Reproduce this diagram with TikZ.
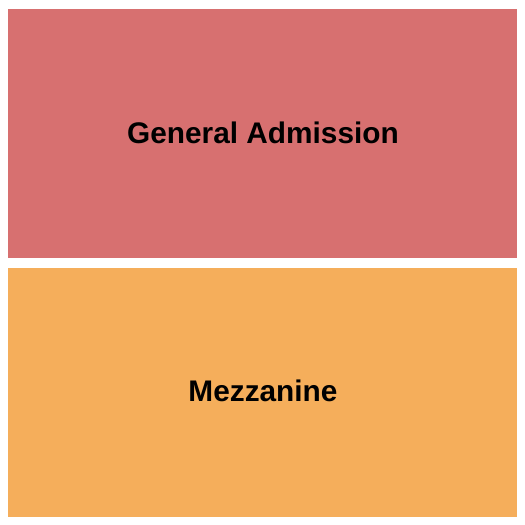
\documentclass[tikz,border=0pt]{standalone}
\usepackage{fontspec}
\setmainfont{Liberation Sans}
\definecolor{gacolor}{RGB}{215,112,112}
\definecolor{mezzcolor}{RGB}{245,174,91}
\begin{document}
\begin{tikzpicture}[x=1pt,y=-1pt]
    \useasboundingbox (0,0) rectangle (525,525);
    \fill[gacolor] (8,9) rectangle (517,258);
    \fill[mezzcolor] (8,268) rectangle (517,517);
    \node (ga) at (263,133) {\fontsize{29.8}{34}\bfseries General Admission};
    \node (mezz) at (263,391) {\fontsize{29.8}{34}\bfseries Mezzanine};
  \end{tikzpicture}
\end{document}
